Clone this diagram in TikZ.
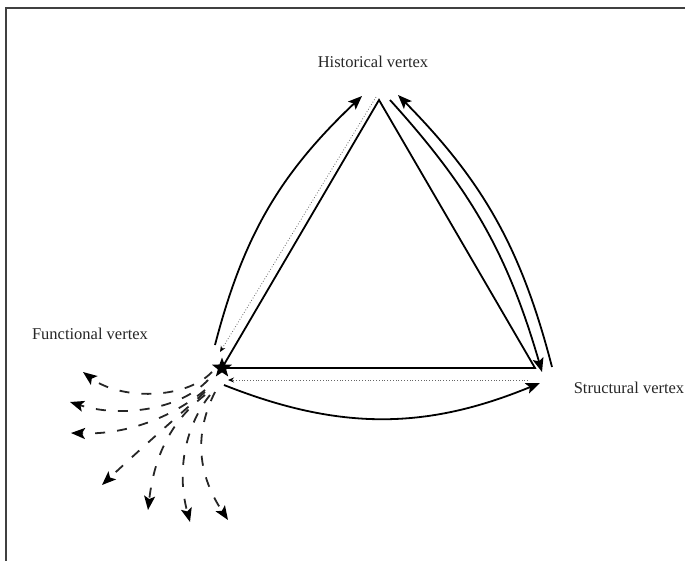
\documentclass[tikz,border=0pt]{standalone}
\usepackage{fontspec}
\setmainfont{Liberation Serif}
\usetikzlibrary{arrows.meta,shapes.geometric}
\tikzset{
  lbl/.style={font=\fontsize{16.5}{18}\selectfont, inner sep=0pt, text=black!85},
  solidarc/.style={line width=1.8pt, -{Stealth[length=14pt,width=11pt,inset=3pt]}},
  edge/.style={line width=1.8pt},
  dotarr/.style={line width=0.8pt, dotted, black!60, -{Stealth[length=6pt,width=5pt,black]}},
  fan/.style={line width=1.8pt, dash pattern=on 10pt off 12pt, black!85, -{Stealth[length=14pt,width=11pt,inset=3pt,black]}},
  frame/.style={line width=1.5pt, black!75}
}
\begin{document}
\begin{tikzpicture}[x=1pt,y=-1pt]
\useasboundingbox (0,0) rectangle (685,561);
% frame
\coordinate (fTL) at (6,8);
\coordinate (fTR) at (685,8);
\coordinate (fBL) at (6,561);
\draw[frame] (fTR) -- (fTL) -- (fBL);
% labels
\node[lbl] (hl) at (373,62) {Historical vertex};
\node[lbl] (fl) at (90,334) {Functional vertex};
\node[lbl] (sl) at (629,388) {Structural vertex};
% triangle
\coordinate (H) at (379,100);
\coordinate (S) at (535,368);
\node[star, star points=5, star point ratio=2.4, fill=black, minimum size=21pt, inner sep=0pt] (F) at (222,368) {};
\draw[edge] (F.center) -- (H) -- (S) -- (F.center);
% arcs
\coordinate (la1) at (215,345);
\coordinate (la2) at (362,96);
\draw[solidarc] (la1) to[bend left=16] (la2);
\coordinate (ro1) at (552,367);
\coordinate (ro2) at (398,95);
\draw[solidarc] (ro1) to[bend right=15] (ro2);
\coordinate (ri1) at (390,100);
\coordinate (ri2) at (542,372);
\draw[solidarc] (ri1) to[bend left=13] (ri2);
\coordinate (ba1) at (224,385);
\coordinate (ba2) at (540,383);
\draw[solidarc] (ba1) to[bend right=22] (ba2);
% dotted
\coordinate (d1a) at (376,97);
\coordinate (d1b) at (220,352);
\draw[dotarr] (d1a) -- (d1b);
\coordinate (d2a) at (528,380);
\coordinate (d2b) at (228,380);
\draw[dotarr] (d2a) -- (d2b);
% fan
\coordinate (s1) at (212,372); \coordinate (e1) at (83,372);
\coordinate (s2) at (208,380); \coordinate (e2) at (70,402);
\coordinate (s3) at (205,390); \coordinate (e3) at (71,433);
\coordinate (s4) at (205,392); \coordinate (e4) at (102,485);
\coordinate (s5) at (205,395); \coordinate (e5) at (148,510);
\coordinate (s6) at (210,395); \coordinate (e6) at (190,522);
\coordinate (s7) at (215,392); \coordinate (e7) at (228,520);
\draw[fan] (s1) .. controls (185,400) and (120,400) .. (e1);
\draw[fan] (s2) .. controls (180,410) and (120,418) .. (e2);
\draw[fan] (s3) .. controls (175,415) and (130,435) .. (e3);
\draw[fan] (s4) .. controls (185,410) and (150,440) .. (e4);
\draw[fan] (s5) .. controls (175,418) and (155,450) .. (e5);
\draw[fan] (s6) .. controls (186,425) and (176,470) .. (e6);
\draw[fan] (s7) .. controls (196,430) and (195,470) .. (e7);
\end{tikzpicture}
\end{document}
